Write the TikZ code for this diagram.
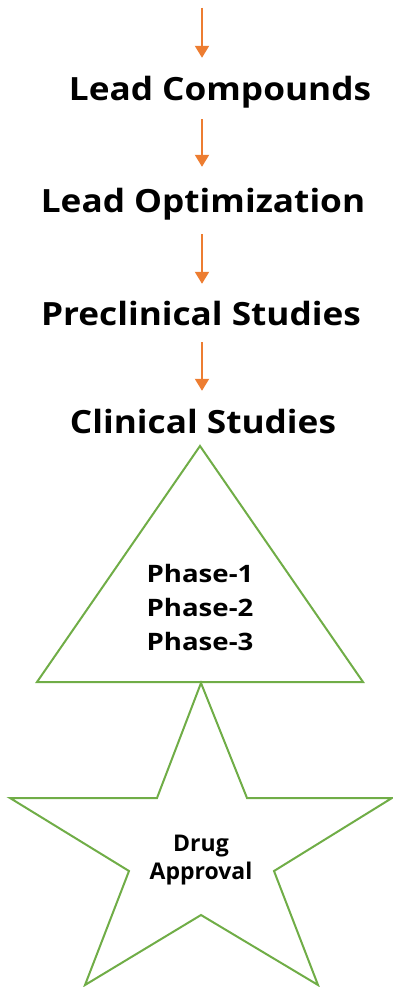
\documentclass[tikz,border=0pt]{standalone}
\usepackage{fontspec}
\usepackage{graphicx}
\setmainfont{Open Sans}
\usetikzlibrary{arrows.meta}
\definecolor{flowOrange}{HTML}{ED7D31}
\definecolor{shapeGreen}{HTML}{70AD47}
% slightly widened lettering
\newcommand{\widetext}[2]{\scalebox{#1}[1]{#2}}
\begin{document}
\begin{tikzpicture}[x=1pt,y=-1pt,
  stagelabel/.style={anchor=base,inner sep=0pt,text height=23pt,text depth=0pt,
    font=\fontsize{32}{38}\selectfont\bfseries},
  innerlabel/.style={anchor=base,inner sep=0pt,
    font=\fontsize{24}{34}\selectfont\bfseries},
  flow/.style={draw=flowOrange,line width=2pt,-{Triangle[width=14pt,length=12pt]},
    fill=flowOrange},
  outline/.style={draw=shapeGreen,line width=2pt,line join=miter}]
\useasboundingbox (0,0) rectangle (393,987);
\coordinate (ax) at (202,0);
\coordinate (start) at (202,8);

% pipeline stages
\node[stagelabel] (lc) at (220,101) {\widetext{1.1}{Lead Compounds}};
\node[stagelabel] (lo) at (203,212) {\widetext{1.1}{Lead Optimization}};
\node[stagelabel] (pc) at (201,325) {\widetext{1.1}{Preclinical Studies}};
\node[stagelabel] (cs) at (203,433) {\widetext{1.1}{Clinical Studies}};

% arrows between the stages
\draw[flow,shorten >=20pt] (start) -- (lc.north -| ax);
\draw[flow,shorten <=18pt,shorten >=22pt] (lc.south -| ax) -- (lo.north -| ax);
\draw[flow,shorten <=22pt,shorten >=18pt] (lo.south -| ax) -- (pc.north -| ax);
\draw[flow,shorten <=17pt,shorten >=19pt] (pc.south -| ax) -- (cs.north -| ax);

% clinical trial triangle
\coordinate (tA) at (200,446);
\coordinate (tL) at (37,682);
\coordinate (tR) at (363,682);
\draw[outline] (tA) -- (tL) -- (tR) -- cycle;
\node[innerlabel] (phases) at (200,650)
  {\widetext{1.15}{\begin{tabular}[b]{@{}c@{}}Phase-1\\Phase-2\\Phase-3\end{tabular}}};

% approval star
\draw[outline] (201,683) -- (247,798) -- (392,798) -- (274,871) -- (318,985)
  -- (201,915) -- (85,985) -- (129,871) -- (10,798) -- (157,798) -- cycle;
\node[innerlabel,align=center,font=\fontsize{23}{28}\selectfont\bfseries]
  (approval) at (201,879) {Drug\\Approval};
\end{tikzpicture}
\end{document}
